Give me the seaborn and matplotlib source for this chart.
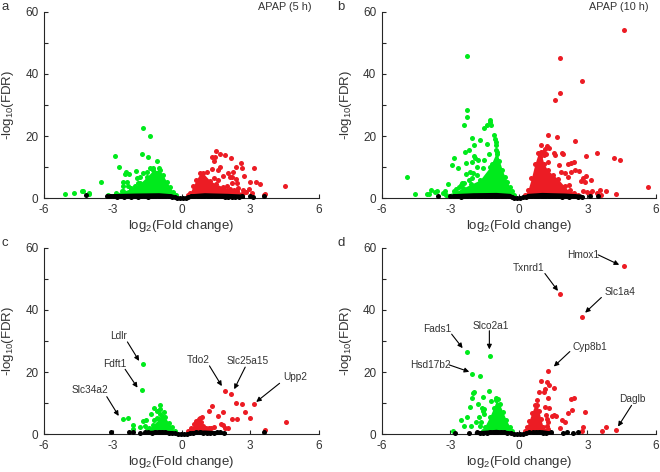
import matplotlib
matplotlib.use('Agg')
import matplotlib.pyplot as plt
import seaborn as sns

# panel a, APAP 5 h
a_green_x = [-5.08, -4.69, -4.36, -4.28, -4.04, -4.04, -3.51, -2.92, -2.73, -2.44, -2.47, -2.28, -2.54, -2.4, -2.57, -2.33, -1.97,
             -1.67, -1.36, -1.74, -1.46, -1.08, -1.67, -1.37, -1.26, -0.97, -1.95, -1.81, -1.52, -1.88, -2.02, -2.2, -2.6, -2.85]
a_green_y = [1.3, 1.8, 2.4, 2.4, 1.8, 1.3, 5.1, 13.7, 10, 8.6, 7.8, 7.8, 5.1, 5.1, 3.8, 3.8, 8.8,
             22.6, 20.1, 14.2, 13.4, 12, 8, 9.6, 9.6, 9.6, 6.4, 7, 8.5, 4.8, 3.8, 3, 2.2, 1.6]
a_green_edge_x = [-3.2, -2.55, -2.2, -1.81, -1.5, -1.24, -0.95, -0.8, -0.65, -0.5, -0.37, -0.25]
a_green_edge_y = [1.2, 2.2, 3.2, 4.8, 7, 9, 9, 7.4, 5.3, 3.6, 2.0, 1.0]
a_red_x = [1.52, 1.68, 1.9, 2.15, 1.33, 1.46, 1.4, 2.61, 2.38, 2.63, 3.15, 1.7, 1.58, 1.35, 1.13, 2.05, 2.26, 1.8, 2.74, 2.12,
           2.2, 2.38, 1.6, 1.4, 3.0, 3.24, 3.43, 4.53, 2.2, 2.4, 2.7, 2.93, 3.07, 3.64, 2.48, 1.98, 2.27, 3.6, 2.82]
a_red_y = [15.2, 14.2, 13.8, 12.8, 13.2, 13.2, 11.9, 11.4, 10, 9.8, 9.7, 10.2, 9.1, 9.3, 8.6, 8, 8.4, 7.2, 7.3, 7,
           6.8, 6.3, 5.9, 6.6, 5.2, 5.2, 4.6, 4.1, 4.8, 4.8, 2.7, 3, 1.8, 1.4, 3.2, 3.8, 2.7, 1.0, 2.1]
a_red_edge_x = [0.28, 0.37, 0.5, 0.65, 0.81, 0.95, 1.24, 1.5, 1.81, 2.1, 2.42, 2.7]
a_red_edge_y = [1.0, 1.7, 3.8, 6, 8, 8, 5.7, 4.6, 3.7, 3, 2.4, 1.6]
a_band_x = [-3.3, -3.1, -2.0, -1.0, -0.45, -0.2, 0, 0.2, 0.45, 1.0, 2.0, 2.6, 2.75]
a_band_y = [0.9, 1.5, 1.7, 1.8, 1.5, 0.8, 0.4, 0.8, 1.5, 1.8, 1.6, 1.4, 0.9]
a_black_x = [-4.15, -3.25, -3.1, -2.95, -2.8, -2.65, -2.5, -2.35, -2.2, -2.05, -1.9, -1.75, -1.6, -1.45, -1.3, -1.15, -1.0, -0.85, -0.7,
             -0.55, -0.42, -0.3, -0.18, -0.06, 0.06, 0.18, 0.3, 0.42, 0.55, 0.7, 0.85, 1.0, 1.15, 1.3, 1.45, 1.6, 1.75, 1.9,
             2.05, 2.2, 2.35, 2.5, 2.65, 3.0, 3.12, 3.6]
a_black_y = [1.0, 0.9, 0.7, 0.6, 0.5, 0.6, 0.4, 0.6, 0.5, 0.6, 0.5, 0.7, 0.6, 0.5, 0.7, 0.6, 0.7, 0.6, 0.7,
             0.6, 0.5, 0.4, 0.2, 0.1, 0.1, 0.2, 0.4, 0.6, 0.7, 0.7, 0.7, 0.6, 0.7, 0.6, 0.6, 0.6, 0.6, 0.5,
             0.5, 0.5, 0.4, 0.4, 0.6, 0.7, 0.5, 0.9]

# panel b, APAP 10 h
b_green_x = [-4.9, -4.56, -4, -3.93, -3.85, -3.67, -3.57, -3.24, -3.08, -3.3, -2.84, -2.75, -2.55, -2.5, -2.84, -2.93, -2.65, -2.32, -2.32,
             -2.29, -2.29, -2.25, -2.42, -1.25, -1.25, -1.53, -1.41, -1.22, -1.09, -2.04, -1.69, -1.95, -1.4, -2.17, -2.36, -1.95, -1.9,
             -1.3, -2.05, -1.78, -1.53, -1.85, -1.59, -2.14, -2, -2.2, -1.85, -1.03, -1.02, -1.0, -0.98, -0.96, -1.18, -2.6, -2.4, -2.05]
b_green_y = [7, 1.5, 1.5, 1.3, 2.7, 2.1, 2.5, 2.3, 4.7, 1.6, 2.5, 3.1, 4.2, 4.8, 12.9, 10.7, 9.6, 11.3, 7.8,
             45.8, 28.5, 26.3, 23.6, 25.2, 24.4, 22.5, 23.5, 23.5, 20.3, 19.3, 18.8, 17.1, 17.3, 15.5, 15, 13.7, 13.1,
             14.1, 11.6, 12.3, 12.3, 10.2, 9.6, 8.6, 8, 5.9, 7.5, 19, 18, 17, 15.5, 14.2, 11, 3.5, 5, 6.5]
b_green_edge_x = [-3.2, -2.8, -2.45, -2.1, -1.7, -1.27, -0.97, -0.85, -0.72, -0.6, -0.5, -0.4, -0.3, -0.22]
b_green_edge_y = [1.2, 2, 3.3, 4.5, 5.9, 10, 15, 12, 9, 6.8, 5.2, 3.6, 2.2, 1.0]
b_red_x = [4.58, 1.82, 2.77, 1.78, 1.56, 1.28, 1.65, 2.45, 0.99, 1.21, 1.31, 1.53, 1.6, 1.87, 1.94, 3.44, 4.18, 4.42, 2.93, 5.63,
           2.4, 2.26, 2.16, 1.76, 1.28, 2.64, 2.45, 2.26, 2.0, 1.84, 2.13, 2.93, 2.81, 2.7, 2.9, 3.15, 2.2, 3.83, 3.57, 4.26,
           3.6, 3.18, 2.96, 2.81, 2.42, 3.4, 3.1, 2.6, 2.25, 1.94, 1.14, 1.06, 1.2, 0.92, 1.1]
b_red_y = [54.1, 45, 37.7, 33.9, 31.5, 20.5, 19.8, 18.4, 17.1, 16.8, 16.1, 14.7, 13.9, 14.5, 14.3, 14.6, 13.1, 12.3, 13.5, 3.6,
           11.8, 11.3, 11, 10.7, 11.6, 8.7, 9.1, 8.4, 8, 8.6, 7, 7.3, 6.6, 5.6, 5.4, 5.9, 4.3, 2.5, 2.7, 1.4,
           1.1, 2.5, 2.1, 2.4, 1.8, 1.6, 1.6, 1.1, 2.7, 3.5, 16, 14.9, 14.3, 13.4, 13.9]
b_red_edge_x = [0.26, 0.4, 0.55, 0.7, 0.85, 0.95, 1.1, 1.27, 1.5, 1.7, 2.0, 2.3]
b_red_edge_y = [1.0, 2.7, 6.5, 11, 14.5, 15, 11, 9, 7.5, 6.3, 3.8, 1.5]
b_band_x = [-3.05, -2.9, -2.0, -1.0, -0.4, -0.18, 0, 0.18, 0.4, 1.0, 2.0, 2.7, 2.85]
b_band_y = [0.9, 1.5, 1.8, 1.9, 1.6, 0.8, 0.4, 0.8, 1.6, 1.9, 1.7, 1.4, 0.9]
b_black_x = [-3.55, -3.0, -2.85, -2.7, -2.55, -2.4, -2.25, -2.1, -1.95, -1.8, -1.65, -1.5, -1.35, -1.2, -1.05, -0.9, -0.75, -0.6,
             -0.45, -0.32, -0.2, -0.08, 0.05, 0.18, 0.3, 0.42, 0.55, 0.7, 0.85, 1.0, 1.15, 1.3, 1.45, 1.6, 1.75, 1.9, 2.05, 2.2,
             2.4, 2.6, 2.75, 3.13, 3.46]
b_black_y = [0.9, 0.7, 0.6, 0.7, 0.5, 0.8, 0.6, 0.8, 0.6, 0.8, 0.7, 0.8, 0.7, 0.8, 0.7, 0.7, 0.7, 0.6,
             0.6, 0.4, 0.2, 0.1, 0.1, 0.3, 0.5, 0.7, 0.7, 0.7, 0.7, 0.7, 0.6, 0.6, 0.7, 0.6, 0.6, 0.5, 0.6, 0.5,
             0.6, 0.5, 0.4, 0.7, 0.8]

# panel c, labelled genes at 5 h
c_green_x = [-1.66, -1.73, -2.56, -2.34, -2.12, -2.12, -1.8, -1.66, -1.54, -1.6, -1.44, -1.22, -0.93, -1.32, -1.08, -0.96, -1.19, -1.08, -0.93, -0.78]
c_green_y = [22.6, 14.2, 5, 5.1, 2.9, 1.8, 2.5, 4.3, 4.6, 2.7, 2.1, 8.6, 9.3, 6.4, 7.5, 8, 4.6, 5.4, 6.4, 7.2]
c_green_edge_x = [-1.5, -1.25, -1.0, -0.85, -0.72, -0.55, -0.42, -0.3]
c_green_edge_y = [1.3, 3, 4.8, 5.8, 5.5, 3.6, 2.2, 1.0]
c_red_x = [1.9, 2.15, 2.39, 2.66, 3.16, 1.34, 1.2, 1.8, 2.75, 1.61, 2.2, 2.41, 3.0, 4.54, 3.65, 1.72, 1.83, 1.9, 2.05, 1.4, 1.18, 1.28, 0.81, 0.89]
c_red_y = [13.8, 12.8, 10, 9.6, 9.7, 9, 7.6, 7.2, 7.2, 5.8, 4.8, 4.8, 5.2, 4.1, 1.4, 3.2, 2.9, 2.1, 2.1, 2.4, 1.9, 2.1, 5.4, 5.6]
c_red_edge_x = [0.3, 0.42, 0.55, 0.65, 0.75, 0.85, 0.95, 1.05, 1.15]
c_red_edge_y = [1.0, 2.0, 3.2, 4.2, 4.8, 3.8, 2.8, 1.9, 1.1]
c_band_x = [-1.7, -1.5, -1.0, -0.45, -0.2, 0, 0.2, 0.45, 1.0, 1.75, 1.95]
c_band_y = [0.8, 1.2, 1.5, 1.2, 0.6, 0.3, 0.6, 1.2, 1.4, 1.1, 0.8]
c_black_x = [-3.07, -2.31, -2.1, -1.83, -1.6, -1.45, -1.3, -1.15, -1.0, -0.85, -0.7, -0.55, -0.4, -0.28, -0.15, -0.03, 0.1, 0.22, 0.35,
             0.5, 0.65, 0.8, 0.95, 1.1, 1.25, 1.4, 1.55, 1.7, 1.85, 3.6]
c_black_y = [0.6, 0.6, 0.7, 0.5, 0.6, 0.7, 0.5, 0.8, 0.6, 0.8, 0.6, 0.5, 0.4, 0.3, 0.1, 0.1, 0.1, 0.2, 0.4,
             0.5, 0.6, 0.6, 0.5, 0.5, 0.4, 0.4, 0.6, 0.7, 0.5, 0.9]

# panel d, labelled genes at 10 h
d_green_x = [-2.26, -1.25, -2.04, -1.69, -1.31, -1.95, -2.0, -2.05, -1.56, -1.22, -1.79, -2.14, -1.62, -1.53, -1.59, -1.53, -2.26, -2.51,
             -2.39, -2.1, -1.88, -1.66, -1.68, -1.73, -2.9, -0.98, -0.9]
d_green_y = [26.4, 25.2, 19.3, 18.8, 13.9, 13.7, 13.4, 11.6, 12, 10.7, 9.6, 8.8, 8.6, 8, 7.5, 6.4, 5.7, 4.7,
             2.6, 2.6, 3.8, 3.8, 2.7, 5.6, 1.1, 11.8, 11.3]
d_green_edge_x = [-1.55, -1.5, -1.27, -1.1, -0.98, -0.84, -0.7, -0.55, -0.39, -0.28]
d_green_edge_y = [1.2, 2.4, 5.7, 8.6, 11, 9.6, 7.2, 4.6, 2.4, 1.1]
d_red_x = [4.58, 1.82, 2.77, 1.28, 0.99, 1.21, 1.31, 1.53, 1.14, 1.09, 0.89, 1.28, 0.79, 2.42, 2.27, 1.14, 1.31, 2.33, 2.13, 2.9, 1.18, 1.43,
           1.53, 1.62, 1.87, 2.01, 1.21, 1.28, 1.21, 1.26, 1.82, 2.81, 2.77, 3.62, 3.83, 4.26]
d_red_y = [54, 45, 37.6, 20.5, 17.2, 16.8, 16, 14.8, 14.5, 13.6, 13.7, 11.6, 11, 11.8, 11.3, 8.8, 8.5, 7.7, 6.9, 7.2, 6.2, 5.9,
           6.1, 5.9, 4.6, 3.8, 4.8, 3.8, 2.7, 1.6, 1.9, 2.4, 1.1, 1.1, 2.5, 1.4]
d_red_edge_x = [0.25, 0.34, 0.45, 0.57, 0.7, 0.8, 0.88, 0.96, 1.06, 1.14]
d_red_edge_y = [1.0, 2.4, 4.4, 7, 9.4, 9.4, 7.4, 5.0, 2.4, 1.2]
d_band_x = [-1.95, -1.75, -1.0, -0.45, -0.2, 0, 0.2, 0.45, 1.0, 1.3, 1.5]
d_band_y = [0.8, 1.2, 1.6, 1.2, 0.6, 0.3, 0.6, 1.2, 1.5, 1.2, 0.8]
d_black_x = [-2.78, -2.2, -1.85, -1.7, -1.55, -1.4, -1.25, -1.1, -0.95, -0.8, -0.65, -0.5, -0.36, -0.22, -0.08, 0.05, 0.18, 0.32, 0.46,
             0.6, 0.75, 0.9, 1.05, 1.2, 1.4, 1.94, 2.11, 2.38, 2.6]
d_black_y = [0.5, 0.5, 0.7, 0.5, 0.4, 0.5, 0.7, 0.8, 0.8, 0.7, 0.7, 0.5, 0.4, 0.2, 0.1, 0.1, 0.2, 0.4, 0.6,
             0.7, 0.7, 0.7, 0.5, 0.5, 0.6, 0.5, 0.9, 0.5, 0.9]

# gene name, text position, arrow start, arrow end
c_labels = [('Ldlr', (-2.73, 31.6), (-2.36, 29.7), (-1.85, 23.6)),
            ('Fdft1', (-2.93, 22.5), (-2.46, 20.9), (-1.92, 15)),
            ('Slc34a2', (-4.0, 14.1), (-3.26, 12.1), (-2.74, 5.9)),
            ('Tdo2', (0.74, 24), (1.22, 22), (1.76, 15.5)),
            ('Slc25a15', (2.87, 23.5), (2.78, 21.6), (2.3, 14.5)),
            ('Upp2', (4.96, 18.4), (4.28, 16.4), (3.26, 10.4))]
d_labels = [('Hmox1', (2.82, 57.7), (3.47, 57.7), (4.39, 54.5)),
            ('Txnrd1', (0.44, 53.4), (1.14, 51.7), (1.71, 46.1)),
            ('Slc1a4', (4.42, 45.7), (3.61, 44), (2.9, 39.1)),
            ('Fads1', (-3.55, 33.8), (-2.94, 32.2), (-2.46, 27.7)),
            ('Slco2a1', (-1.22, 34.8), (-1.29, 33.3), (-1.29, 27.3)),
            ('Hsd17b2', (-3.89, 22.3), (-3.04, 22.3), (-2.17, 20.1)),
            ('Cyp8b1', (3.1, 28.2), (2.23, 26.6), (1.53, 21.8)),
            ('Daglb', (4.96, 11.3), (4.93, 9.3), (4.34, 2.5))]

sns.set_style('ticks')
plt.rcParams['font.family'] = ['Liberation Sans', 'DejaVu Sans']
plt.rcParams['mathtext.default'] = 'regular'
plt.rcParams['axes.unicode_minus'] = False
text_color = '#333333'
green = '#00ea1c'
red = '#ec1c24'
W, H = 660, 472


def volcano(pos, letter, letter_x, letter_y, green_pts, green_edge, red_pts, red_edge, band, black_pts, title=None, labels=()):
    ax = fig.add_axes([pos[0] / W, 1 - pos[3] / H, (pos[2] - pos[0]) / W, (pos[3] - pos[1]) / H])
    # dense part of each cloud
    ax.fill_between(green_edge[0], green_edge[1], color=green, lw=0)
    ax.fill_between(red_edge[0], red_edge[1], color=red, lw=0)
    ax.fill_between(band[0], band[1], color='black', lw=0, zorder=4)
    sns.scatterplot(x=green_pts[0] + green_edge[0], y=green_pts[1] + green_edge[1], color=green, s=13, linewidth=0, ax=ax)
    sns.scatterplot(x=red_pts[0] + red_edge[0], y=red_pts[1] + red_edge[1], color=red, s=13, linewidth=0, ax=ax)
    sns.scatterplot(x=black_pts[0], y=black_pts[1], color='black', s=13, linewidth=0, ax=ax, zorder=5, clip_on=False)
    ax.set_xlim(-6, 6)
    ax.set_ylim(0, 60)
    ax.set_xticks([-6, -3, 0, 3, 6])
    ax.set_yticks([0, 20, 40, 60])
    ax.set_yticks([10, 30, 50], minor=True)
    ax.tick_params(axis='both', which='major', direction='in', length=3, width=0.8, labelsize=8.5,
                   labelcolor=text_color, pad=4)
    ax.tick_params(axis='y', which='minor', direction='in', length=3, width=0.8)
    ax.set_xlabel('log$_2$(Fold change)', fontsize=9.5, color=text_color)
    ax.set_ylabel('-log$_{10}$(FDR)', fontsize=9.5, color=text_color)
    ax.xaxis.set_label_coords(0.5, -20 / 186.6, transform=ax.transAxes)
    ax.yaxis.set_label_coords(-28 / 275, 0.5, transform=ax.transAxes)
    ax.spines['right'].set_visible(False)
    ax.spines['top'].set_visible(False)
    for s in ['left', 'bottom']:
        ax.spines[s].set_linewidth(0.8)
    ax.patch.set_alpha(0)
    if title:
        ax.text(title[1], 61.6, title[0], fontsize=7.8, color=text_color, ha='center', va='center')
    for name, txt, start, end in labels:
        ax.text(txt[0], txt[1], name, fontsize=7.3, color=text_color, ha='center', va='center')
        ax.annotate('', xy=end, xytext=start,
                    arrowprops=dict(arrowstyle='-|>', color='black', lw=0.8, mutation_scale=7, shrinkA=0, shrinkB=0))
    fig.text(letter_x / W, 1 - letter_y / H, letter, fontsize=9.5, color=text_color, ha='left', va='center')


fig = plt.figure(figsize=(6.6, 4.72), dpi=100)
volcano((44, 11.7, 319, 198.3), 'a', 1, 7, (a_green_x, a_green_y), (a_green_edge_x, a_green_edge_y),
        (a_red_x, a_red_y), (a_red_edge_x, a_red_edge_y), (a_band_x, a_band_y), (a_black_x, a_black_y), title=('APAP (5 h)', 4.52))
volcano((381.7, 11.7, 656, 198.3), 'b', 337, 7, (b_green_x, b_green_y), (b_green_edge_x, b_green_edge_y),
        (b_red_x, b_red_y), (b_red_edge_x, b_red_edge_y), (b_band_x, b_band_y), (b_black_x, b_black_y), title=('APAP (10 h)', 4.39))
volcano((44, 247.7, 319, 434.3), 'c', 1, 243, (c_green_x, c_green_y), (c_green_edge_x, c_green_edge_y),
        (c_red_x, c_red_y), (c_red_edge_x, c_red_edge_y), (c_band_x, c_band_y), (c_black_x, c_black_y), labels=c_labels)
volcano((381.7, 247.7, 656, 434.3), 'd', 337, 243, (d_green_x, d_green_y), (d_green_edge_x, d_green_edge_y),
        (d_red_x, d_red_y), (d_red_edge_x, d_red_edge_y), (d_band_x, d_band_y), (d_black_x, d_black_y), labels=d_labels)

fig.savefig('out.png', dpi=100)
